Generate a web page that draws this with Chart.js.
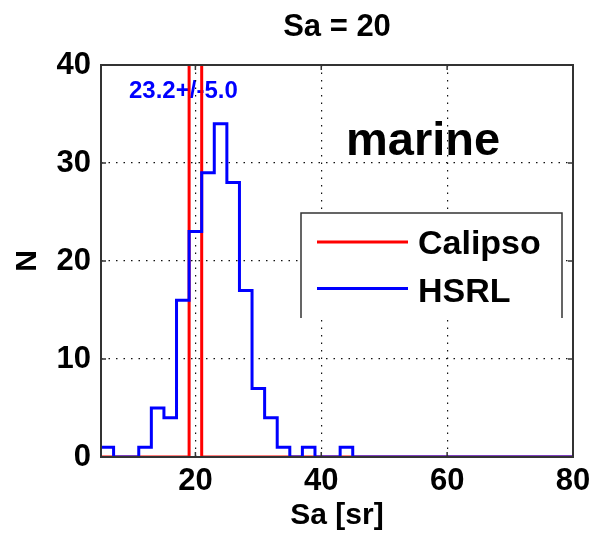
<!DOCTYPE html>
<html>
<head>
<meta charset="utf-8">
<script src="https://cdn.jsdelivr.net/npm/chart.js@4"></script>
<style>
  html, body { margin: 0; padding: 0; background: #fff; }
  canvas { display: block; }
</style>
</head>
<body>
<canvas id="myChart" width="594" height="536"></canvas>
<script>
// histogram bins (2 sr wide), centers in sr
const binCenters = [6, 8, 10, 12, 14, 16, 18, 20, 22, 24, 26, 28, 30, 32, 34, 36, 38, 40, 42, 44,
                    46, 48, 50, 52, 54, 56, 58, 60, 62, 64, 66, 68, 70, 72, 74, 76, 78, 80];
const hsrlCounts = [1, 0, 0, 1, 5, 4, 16, 23, 29, 34, 28, 17, 7, 4, 1, 0, 1, 0, 0, 1,
                    0, 0, 0, 0, 0, 0, 0, 0, 0, 0, 0, 0, 0, 0, 0, 0, 0, 0];
const calipsoCounts = [0, 0, 0, 0, 0, 0, 0, 172, 0, 0, 0, 0, 0, 0, 0, 0, 0, 0, 0, 0,
                       0, 0, 0, 0, 0, 0, 0, 0, 0, 0, 0, 0, 0, 0, 0, 0, 0, 0];
const xTicks = [20, 40, 60, 80];
const yTicks = [0, 10, 20, 30, 40];
const binWidth = 2;

const FONT = "'Liberation Sans', Arial, sans-serif";

// stairs: left edge of each bin carries its count, plus closing point
function stairs(counts) {
    const pts = binCenters.map((c, i) => ({ x: c - binWidth / 2, y: counts[i] }));
    const last = binCenters.length - 1;
    pts.push({ x: binCenters[last] + binWidth / 2, y: counts[last] });
    return pts;
}

const boxPlugin = {
    id: 'boxPlugin',
    beforeDraw(chart) {
        const ctx = chart.ctx;
        ctx.save();
        ctx.fillStyle = '#000';
        ctx.textBaseline = 'alphabetic';
        ctx.textAlign = 'left';
        ctx.font = 'bold 47px ' + FONT;
        ctx.fillText('marine', 346, 155);
        ctx.fillStyle = '#0000ff';
        ctx.font = 'bold 24px ' + FONT;
        ctx.fillText('23.2+/-5.0', 129, 98);
        ctx.restore();
    },
    afterDraw(chart) {
        const ctx = chart.ctx;
        const a = chart.chartArea;
        const xs = chart.scales.x, ys = chart.scales.y;
        ctx.save();
        // legend box (bottom edge not drawn)
        ctx.fillStyle = '#fff';
        ctx.fillRect(301, 213, 261, 105);
        ctx.strokeStyle = '#333';
        ctx.lineWidth = 1.5;
        ctx.beginPath();
        ctx.moveTo(301, 318);
        ctx.lineTo(301, 213);
        ctx.lineTo(562, 213);
        ctx.lineTo(562, 318);
        ctx.stroke();
        ctx.lineWidth = 3;
        ctx.strokeStyle = '#ff0000';
        ctx.beginPath(); ctx.moveTo(317, 242); ctx.lineTo(408, 242); ctx.stroke();
        ctx.strokeStyle = '#0000ff';
        ctx.beginPath(); ctx.moveTo(317, 288.5); ctx.lineTo(408, 288.5); ctx.stroke();
        ctx.fillStyle = '#000';
        ctx.font = 'bold 34px ' + FONT;
        ctx.textBaseline = 'alphabetic';
        ctx.fillText('Calipso', 418, 253.5);
        ctx.fillText('HSRL', 418, 301.5);

        // axes box + inward ticks
        ctx.strokeStyle = '#333';
        ctx.lineWidth = 2;
        ctx.strokeRect(a.left, a.top, a.right - a.left, a.bottom - a.top);
        ctx.lineWidth = 1.5;
        ctx.beginPath();
        xTicks.forEach(v => {
            const px = xs.getPixelForValue(v);
            ctx.moveTo(px, a.bottom); ctx.lineTo(px, a.bottom - 5);
            ctx.moveTo(px, a.top); ctx.lineTo(px, a.top + 5);
        });
        yTicks.forEach(v => {
            const py = ys.getPixelForValue(v);
            ctx.moveTo(a.left, py); ctx.lineTo(a.left + 5, py);
            ctx.moveTo(a.right, py); ctx.lineTo(a.right - 5, py);
        });
        ctx.stroke();
        ctx.restore();
    }
};

const gridColor = (list, edges) => c => (edges.includes(c.tick.value) ? 'rgba(0,0,0,0)' : '#111');

const ctx = document.getElementById('myChart').getContext('2d');
const myChart = new Chart(ctx, {
    type: 'line',
    data: {
        datasets: [{
            label: 'HSRL',
            data: stairs(hsrlCounts),
            borderColor: '#0000ff',
            borderWidth: 3,
            stepped: true,
            pointRadius: 0,
            fill: false
        }, {
            label: 'Calipso',
            data: stairs(calipsoCounts),
            borderColor: '#ff0000',
            borderWidth: 3,
            stepped: true,
            pointRadius: 0,
            fill: false
        }]
    },
    options: {
        responsive: false,
        animation: false,
        devicePixelRatio: 1,
        layout: { padding: { left: 0, right: 21, top: 0, bottom: 0 } },
        plugins: {
            legend: { display: false },
            tooltip: { enabled: false },
            title: {
                display: true,
                text: 'Sa = 20',
                fullSize: false,
                color: '#000',
                font: { family: FONT, size: 31, weight: 'bold', lineHeight: 1 },
                padding: { top: 12, bottom: 22 }
            }
        },
        scales: {
            x: {
                type: 'linear',
                min: 5,
                max: 80,
                afterBuildTicks: s => { s.ticks = xTicks.map(v => ({ value: v })); },
                afterFit: s => { s.height = 79; s.paddingLeft = 0; s.paddingRight = 0; },
                ticks: {
                    color: '#000',
                    padding: 9,
                    maxRotation: 0,
                    font: { family: FONT, size: 31, weight: 'bold', lineHeight: 1 }
                },
                grid: {
                    drawTicks: false,
                    lineWidth: 1.2,
                    color: gridColor(xTicks, [5, 80])
                },
                border: { display: false, dash: [1.5, 6] },
                title: {
                    display: true,
                    text: 'Sa [sr]',
                    color: '#000',
                    font: { family: FONT, size: 30, weight: 'bold', lineHeight: 1 },
                    padding: { top: 0, bottom: 5 }
                }
            },
            y: {
                min: 0,
                max: 40,
                afterBuildTicks: s => { s.ticks = yTicks.map(v => ({ value: v })); },
                afterFit: s => { s.width = 101; s.paddingTop = 0; s.paddingBottom = 0; },
                ticks: {
                    color: '#000',
                    padding: 10,
                    font: { family: FONT, size: 31, weight: 'bold', lineHeight: 1 }
                },
                grid: {
                    drawTicks: false,
                    lineWidth: 1.2,
                    color: gridColor(yTicks, [0, 40])
                },
                border: { display: false, dash: [1.5, 6] },
                title: {
                    display: true,
                    text: 'N',
                    color: '#000',
                    font: { family: FONT, size: 30, weight: 'bold', lineHeight: 1 },
                    padding: { top: 13, bottom: 0 }
                }
            }
        }
    },
    plugins: [boxPlugin]
});
</script>
</body>
</html>
